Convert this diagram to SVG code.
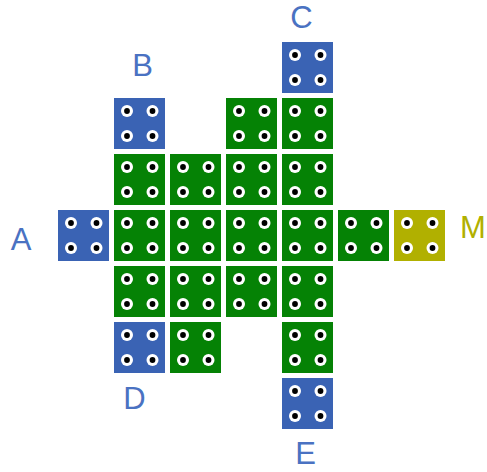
<svg xmlns="http://www.w3.org/2000/svg" xmlns:xlink="http://www.w3.org/1999/xlink" width="487" height="472" viewBox="0 0 487 472">
<style>
.blue{fill:#3a63b4}
.green{fill:#058205}
.yel{fill:#b1b000}
.lbl{font-family:"Liberation Sans",Arial,sans-serif;font-size:31px;text-anchor:middle}
.lb{fill:#4a72c2}
.ly{fill:#b1b000}
</style>
<defs>
<g id="holes">
<circle cx="13" cy="13" r="6" fill="#fff"/><circle cx="13" cy="13" r="2.9" fill="#000"/>
<circle cx="38.5" cy="13" r="6" fill="#fff"/><circle cx="38.5" cy="13" r="2.9" fill="#000"/>
<circle cx="13" cy="38" r="6" fill="#fff"/><circle cx="13" cy="38" r="2.9" fill="#000"/>
<circle cx="38.5" cy="38" r="6" fill="#fff"/><circle cx="38.5" cy="38" r="2.9" fill="#000"/>
</g>
<rect id="sq" width="51" height="51"/>
</defs>
<g id="connectors"/>
<g id="C"><use xlink:href="#sq" class="blue" x="282" y="42"/><use xlink:href="#holes" x="282" y="42"/></g>
<g id="B"><use xlink:href="#sq" class="blue" x="114" y="98"/><use xlink:href="#holes" x="114" y="98"/></g>
<g id="g1"><use xlink:href="#sq" class="green" x="226" y="98"/><use xlink:href="#holes" x="226" y="98"/></g>
<g id="g2"><use xlink:href="#sq" class="green" x="282" y="98"/><use xlink:href="#holes" x="282" y="98"/></g>
<g id="g3"><use xlink:href="#sq" class="green" x="114" y="154"/><use xlink:href="#holes" x="114" y="154"/></g>
<g id="g4"><use xlink:href="#sq" class="green" x="170" y="154"/><use xlink:href="#holes" x="170" y="154"/></g>
<g id="g5"><use xlink:href="#sq" class="green" x="226" y="154"/><use xlink:href="#holes" x="226" y="154"/></g>
<g id="g6"><use xlink:href="#sq" class="green" x="282" y="154"/><use xlink:href="#holes" x="282" y="154"/></g>
<g id="A"><use xlink:href="#sq" class="blue" x="58" y="210"/><use xlink:href="#holes" x="58" y="210"/></g>
<g id="g7"><use xlink:href="#sq" class="green" x="114" y="210"/><use xlink:href="#holes" x="114" y="210"/></g>
<g id="g8"><use xlink:href="#sq" class="green" x="170" y="210"/><use xlink:href="#holes" x="170" y="210"/></g>
<g id="g9"><use xlink:href="#sq" class="green" x="226" y="210"/><use xlink:href="#holes" x="226" y="210"/></g>
<g id="g10"><use xlink:href="#sq" class="green" x="282" y="210"/><use xlink:href="#holes" x="282" y="210"/></g>
<g id="g11"><use xlink:href="#sq" class="green" x="338" y="210"/><use xlink:href="#holes" x="338" y="210"/></g>
<g id="M"><use xlink:href="#sq" class="yel" x="394" y="210"/><use xlink:href="#holes" x="394" y="210"/></g>
<g id="g12"><use xlink:href="#sq" class="green" x="114" y="266"/><use xlink:href="#holes" x="114" y="266"/></g>
<g id="g13"><use xlink:href="#sq" class="green" x="170" y="266"/><use xlink:href="#holes" x="170" y="266"/></g>
<g id="g14"><use xlink:href="#sq" class="green" x="226" y="266"/><use xlink:href="#holes" x="226" y="266"/></g>
<g id="g15"><use xlink:href="#sq" class="green" x="282" y="266"/><use xlink:href="#holes" x="282" y="266"/></g>
<g id="D"><use xlink:href="#sq" class="blue" x="114" y="322"/><use xlink:href="#holes" x="114" y="322"/></g>
<g id="g16"><use xlink:href="#sq" class="green" x="170" y="322"/><use xlink:href="#holes" x="170" y="322"/></g>
<g id="g17"><use xlink:href="#sq" class="green" x="282" y="322"/><use xlink:href="#holes" x="282" y="322"/></g>
<g id="E"><use xlink:href="#sq" class="blue" x="282" y="378"/><use xlink:href="#holes" x="282" y="378"/></g>
<g id="labels">
<text class="lbl lb" x="301.5" y="28">C</text>
<text class="lbl lb" x="142.5" y="76">B</text>
<text class="lbl lb" x="21" y="250">A</text>
<text class="lbl ly" x="473" y="238">M</text>
<text class="lbl lb" x="134.5" y="409">D</text>
<text class="lbl lb" x="305.5" y="464">E</text>
</g>
</svg>
